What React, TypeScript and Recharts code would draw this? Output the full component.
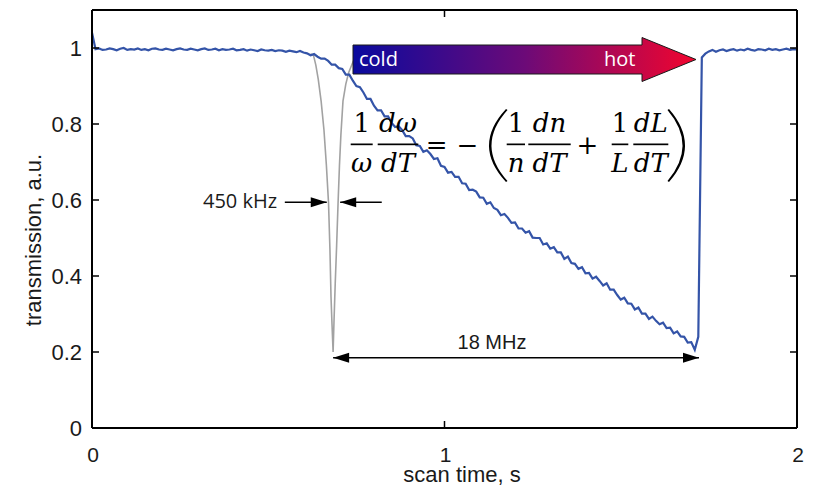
import React from "react";
import { LineChart, Line, XAxis, YAxis, ReferenceLine } from "recharts";

// ---- data ----
const SAMPLE_STEP = 0.01; // s, sampling interval of the blue trace (t = 0 .. 2 s)
const blueTransmission = [
  1.04,
  0.997, 0.999, 0.995, 0.996, 0.999, 0.997, 0.994, 0.998, 1.0, 0.995,
  0.997, 0.996, 0.999, 0.995, 0.997, 0.994, 0.998, 0.999, 0.996, 0.995,
  0.998, 0.996, 0.994, 0.997, 0.999, 0.996, 0.995, 0.998, 0.996, 0.994,
  0.997, 0.999, 0.995, 0.996, 0.998, 0.994, 0.997, 0.995, 0.996, 0.998,
  0.994, 0.995, 0.997, 0.993, 0.996, 0.994, 0.992, 0.996, 0.994, 0.993,
  0.995, 0.992, 0.994, 0.993, 0.990, 0.993, 0.991, 0.989, 0.992, 0.988,
  0.986, 0.981, 0.984, 0.977, 0.972, 0.972, 0.966, 0.956, 0.956, 0.947,
  0.945, 0.93, 0.93, 0.914, 0.9, 0.897, 0.883, 0.866, 0.866, 0.848,
  0.836, 0.836, 0.82, 0.82, 0.803, 0.792, 0.794, 0.784, 0.768, 0.768,
  0.762, 0.744, 0.742, 0.727, 0.731, 0.721, 0.708, 0.71, 0.69, 0.687,
  0.672, 0.674, 0.661, 0.661, 0.644, 0.643, 0.626, 0.627, 0.622, 0.607,
  0.606, 0.59, 0.594, 0.579, 0.574, 0.56, 0.563, 0.553, 0.54, 0.541,
  0.525, 0.525, 0.514, 0.518, 0.501, 0.5, 0.5, 0.483, 0.486, 0.472,
  0.476, 0.462, 0.462, 0.445, 0.451, 0.434, 0.432, 0.419, 0.423, 0.407,
  0.408, 0.393, 0.398, 0.387, 0.375, 0.381, 0.364, 0.364, 0.35, 0.338,
  0.343, 0.328, 0.327, 0.312, 0.317, 0.301, 0.301, 0.287, 0.293, 0.282,
  0.273, 0.277, 0.263, 0.264, 0.249, 0.254, 0.241, 0.24, 0.225, 0.226,
  0.206, 0.24, 0.975, 0.985,
  0.991, 0.995, 0.99, 0.994, 0.996, 0.992, 0.995, 0.997, 0.993, 0.996,
  0.994, 0.998, 0.995, 0.993, 0.997, 0.996, 0.994, 0.998, 0.995, 0.997,
  0.994, 0.996, 0.998, 0.995, 0.997, 0.996,
];

const grayTime = [
  0.62, 0.628, 0.635, 0.642, 0.65, 0.658, 0.665, 0.671, 0.675, 0.678, 0.681, 0.684,
  0.6865, 0.69, 0.694, 0.698, 0.702, 0.706, 0.712, 0.72, 0.728, 0.741, 0.745,
];
const grayTransmission = [
  0.984, 0.982, 0.955, 0.917, 0.86, 0.785, 0.69, 0.592, 0.47, 0.346, 0.27, 0.2,
  0.28, 0.38, 0.48, 0.59, 0.69, 0.77, 0.86, 0.905, 0.935, 0.965, 0.97,
];

const xTicks = [0, 1, 2];
const topTicks = [1];
const yTicks = [0, 0.2, 0.4, 0.6, 0.8, 1];
const rightTicks = [0.2, 0.4, 0.6, 0.8, 1];

const blueSeries = blueTransmission.map((v, i) => ({
  t: Math.round(i * SAMPLE_STEP * 100) / 100,
  v,
}));
const graySeries = grayTime.map((t, i) => ({ t, v: grayTransmission[i] }));

// annotation arrows in data coordinates
const freqSpanArrow = [
  { x: 0.684, y: 0.185 },
  { x: 1.722, y: 0.185 },
];
const widthArrowLeft = [
  { x: 0.547, y: 0.594 },
  { x: 0.666, y: 0.594 },
];
const widthArrowRight = [
  { x: 0.822, y: 0.594 },
  { x: 0.704, y: 0.594 },
];

const SANS = "'Liberation Sans', Arial, sans-serif";
const HUMAN = "'Open Sans', 'Noto Sans', sans-serif";
const SERIF = "'DejaVu Serif', 'Liberation Serif', serif";
const INK = "#1a1a1a";

const head = (x: number, y: number, dir: number) => {
  const L = 16;
  const H = 5;
  return `${x},${y} ${x - dir * L},${y - H} ${x - dir * L},${y + H}`;
};

const ArrowShape = (both: boolean) => (props: any) => {
  const { x1, y1, x2, y2 } = props;
  const dir = x2 >= x1 ? 1 : -1;
  return (
    <g>
      <line x1={x1} y1={y1} x2={x2} y2={y2} stroke="#000" strokeWidth={1.5} />
      <polygon points={head(x2, y2, dir)} fill="#000" />
      {both ? <polygon points={head(x1, y1, -dir)} fill="#000" /> : null}
    </g>
  );
};

const LeftTick = (p: any) => (
  <g>
    <line x1={p.x} x2={p.x + 7} y1={p.y} y2={p.y} stroke="#000" strokeWidth={1.5} />
    <text x={p.x - 10} y={p.y + 8} textAnchor="end" fontSize={22} fontFamily={SANS} fill={INK}>
      {String(p.payload.value)}
    </text>
  </g>
);
const RightTick = (p: any) => (
  <line x1={p.x - 7} x2={p.x} y1={p.y} y2={p.y} stroke="#000" strokeWidth={1.5} />
);
const BottomTick = (p: any) => (
  <g>
    <line x1={p.x} x2={p.x} y1={p.y} y2={p.y - 7} stroke="#000" strokeWidth={1.5} />
    <text x={p.x + 1} y={p.y + 34} textAnchor="middle" fontSize={21} fontFamily={SANS} fill={INK}>
      {String(p.payload.value)}
    </text>
  </g>
);
const TopTick = (p: any) => (
  <line x1={p.x} x2={p.x} y1={p.y} y2={p.y + 7} stroke="#000" strokeWidth={1.5} />
);

const Frac = ({ cx, num, den, x1, x2, numItalic = true }: any) => (
  <g>
    <text
      x={cx}
      y={132}
      textAnchor="middle"
      fontSize={26}
      fontFamily={SERIF}
      fontStyle={numItalic ? "italic" : "normal"}
      fill="#000"
    >
      {num}
    </text>
    <rect x={x1} y={143.5} width={x2 - x1} height={1.7} fill="#000" />
    <text x={cx} y={172} textAnchor="middle" fontSize={26} fontFamily={SERIF} fontStyle="italic" fill="#000">
      {den}
    </text>
  </g>
);

export default function App() {
  return (
    <div style={{ position: "absolute", left: 0, top: 0, width: 820, height: 486, background: "#fff" }}>
      <div style={{ position: "absolute", left: 0, top: 0 }}>
        <LineChart width={820} height={486} data={blueSeries} margin={{ top: 0, right: 0, bottom: 0, left: 0 }}>
          <XAxis
            dataKey="t"
            type="number"
            domain={[0, 2]}
            allowDataOverflow
            ticks={xTicks}
            height={58}
            tickSize={0}
            tickMargin={0}
            tickLine={false}
            axisLine={{ stroke: "#000", strokeWidth: 2 }}
            tick={BottomTick}
            interval={0}
          />
          <XAxis
            xAxisId="top"
            orientation="top"
            dataKey="t"
            type="number"
            domain={[0, 2]}
            allowDataOverflow
            ticks={topTicks}
            height={10}
            tickSize={0}
            tickMargin={0}
            tickLine={false}
            axisLine={{ stroke: "#000", strokeWidth: 2 }}
            tick={TopTick}
          />
          <YAxis
            type="number"
            domain={[0, 1.1]}
            allowDataOverflow
            ticks={yTicks}
            width={92}
            tickSize={0}
            tickMargin={0}
            tickLine={false}
            axisLine={{ stroke: "#000", strokeWidth: 2 }}
            tick={LeftTick}
            interval={0}
          />
          <YAxis
            yAxisId="right"
            orientation="right"
            type="number"
            domain={[0, 1.1]}
            allowDataOverflow
            ticks={rightTicks}
            width={23}
            tickSize={0}
            tickMargin={0}
            tickLine={false}
            axisLine={{ stroke: "#000", strokeWidth: 2 }}
            tick={RightTick}
            interval={0}
          />
          <Line
            data={graySeries}
            dataKey="v"
            type="linear"
            stroke="#a2a2a2"
            strokeWidth={1.6}
            dot={false}
            isAnimationActive={false}
          />
          <Line
            dataKey="v"
            type="linear"
            stroke="#3454a8"
            strokeWidth={2.2}
            dot={false}
            isAnimationActive={false}
          />
          <ReferenceLine segment={freqSpanArrow} shape={ArrowShape(true)} ifOverflow="visible" />
          <ReferenceLine segment={widthArrowLeft} shape={ArrowShape(false)} ifOverflow="visible" />
          <ReferenceLine segment={widthArrowRight} shape={ArrowShape(false)} ifOverflow="visible" />
        </LineChart>
      </div>
      <svg
        width={820}
        height={486}
        style={{ position: "absolute", left: 0, top: 0, pointerEvents: "none" }}
      >
        <defs>
          <linearGradient id="coldHot" x1="353" y1="0" x2="696" y2="0" gradientUnits="userSpaceOnUse">
            <stop offset="0" stopColor="#0a0a9e" />
            <stop offset="0.5" stopColor="#6c0a78" />
            <stop offset="1" stopColor="#f2052e" />
          </linearGradient>
        </defs>
        <path
          d="M353 45 H642 V37.5 L696 59.5 L642 81.5 V74 H353 Z"
          fill="url(#coldHot)"
          stroke="#1a1a1a"
          strokeWidth={1}
        />
        <text x={359} y={66} fontSize={20} fontFamily={HUMAN} fill="#fff">
          cold
        </text>
        <text x={604} y={66} fontSize={20} fontFamily={HUMAN} fill="#fff">
          hot
        </text>

        {/* equation */}
        <Frac cx={361.7} num="1" den="ω" x1={350.7} x2={372.7} numItalic={false} />
        <Frac cx={398} num="dω" den="dT" x1={377.7} x2={418.3} />
        <text x={436.7} y={154} textAnchor="middle" fontSize={26} fontFamily={SERIF} fill="#000">
          =
        </text>
        <text x={467.5} y={154} textAnchor="middle" fontSize={26} fontFamily={SERIF} fill="#000">
          −
        </text>
        <path d="M506 109 Q472 145.5 506 182 L507.5 181 Q475.5 145.5 507.5 110 Z" fill="#000" />
        <Frac cx={516} num="1" den="n" x1={506.7} x2={525} numItalic={false} />
        <Frac cx={549.5} num="dn" den="dT" x1={528.3} x2={570.7} />
        <text x={587.5} y={154} textAnchor="middle" fontSize={26} fontFamily={SERIF} fill="#000">
          +
        </text>
        <Frac cx={620} num="1" den="L" x1={611.7} x2={628.3} numItalic={false} />
        <Frac cx={650.8} num="dL" den="dT" x1={633.3} x2={668.3} />
        <path d="M669 109 Q701 145.5 669 182 L667.5 181 Q697.5 145.5 667.5 110 Z" fill="#000" />

        <text x={203} y={208} fontSize={20} fontFamily={HUMAN} fill={INK}>
          450 kHz
        </text>
        <text x={492} y={349} textAnchor="middle" fontSize={20} fontFamily={SANS} fill={INK}>
          18 MHz
        </text>

        <text x={462} y={482} textAnchor="middle" fontSize={22} fontFamily={SANS} fill={INK}>
          scan time, s
        </text>
        <text
          x={41}
          y={240}
          textAnchor="middle"
          fontSize={22}
          fontFamily={SANS}
          fill={INK}
          transform="rotate(-90 41 240)"
        >
          transmission, a.u.
        </text>
      </svg>
    </div>
  );
}
